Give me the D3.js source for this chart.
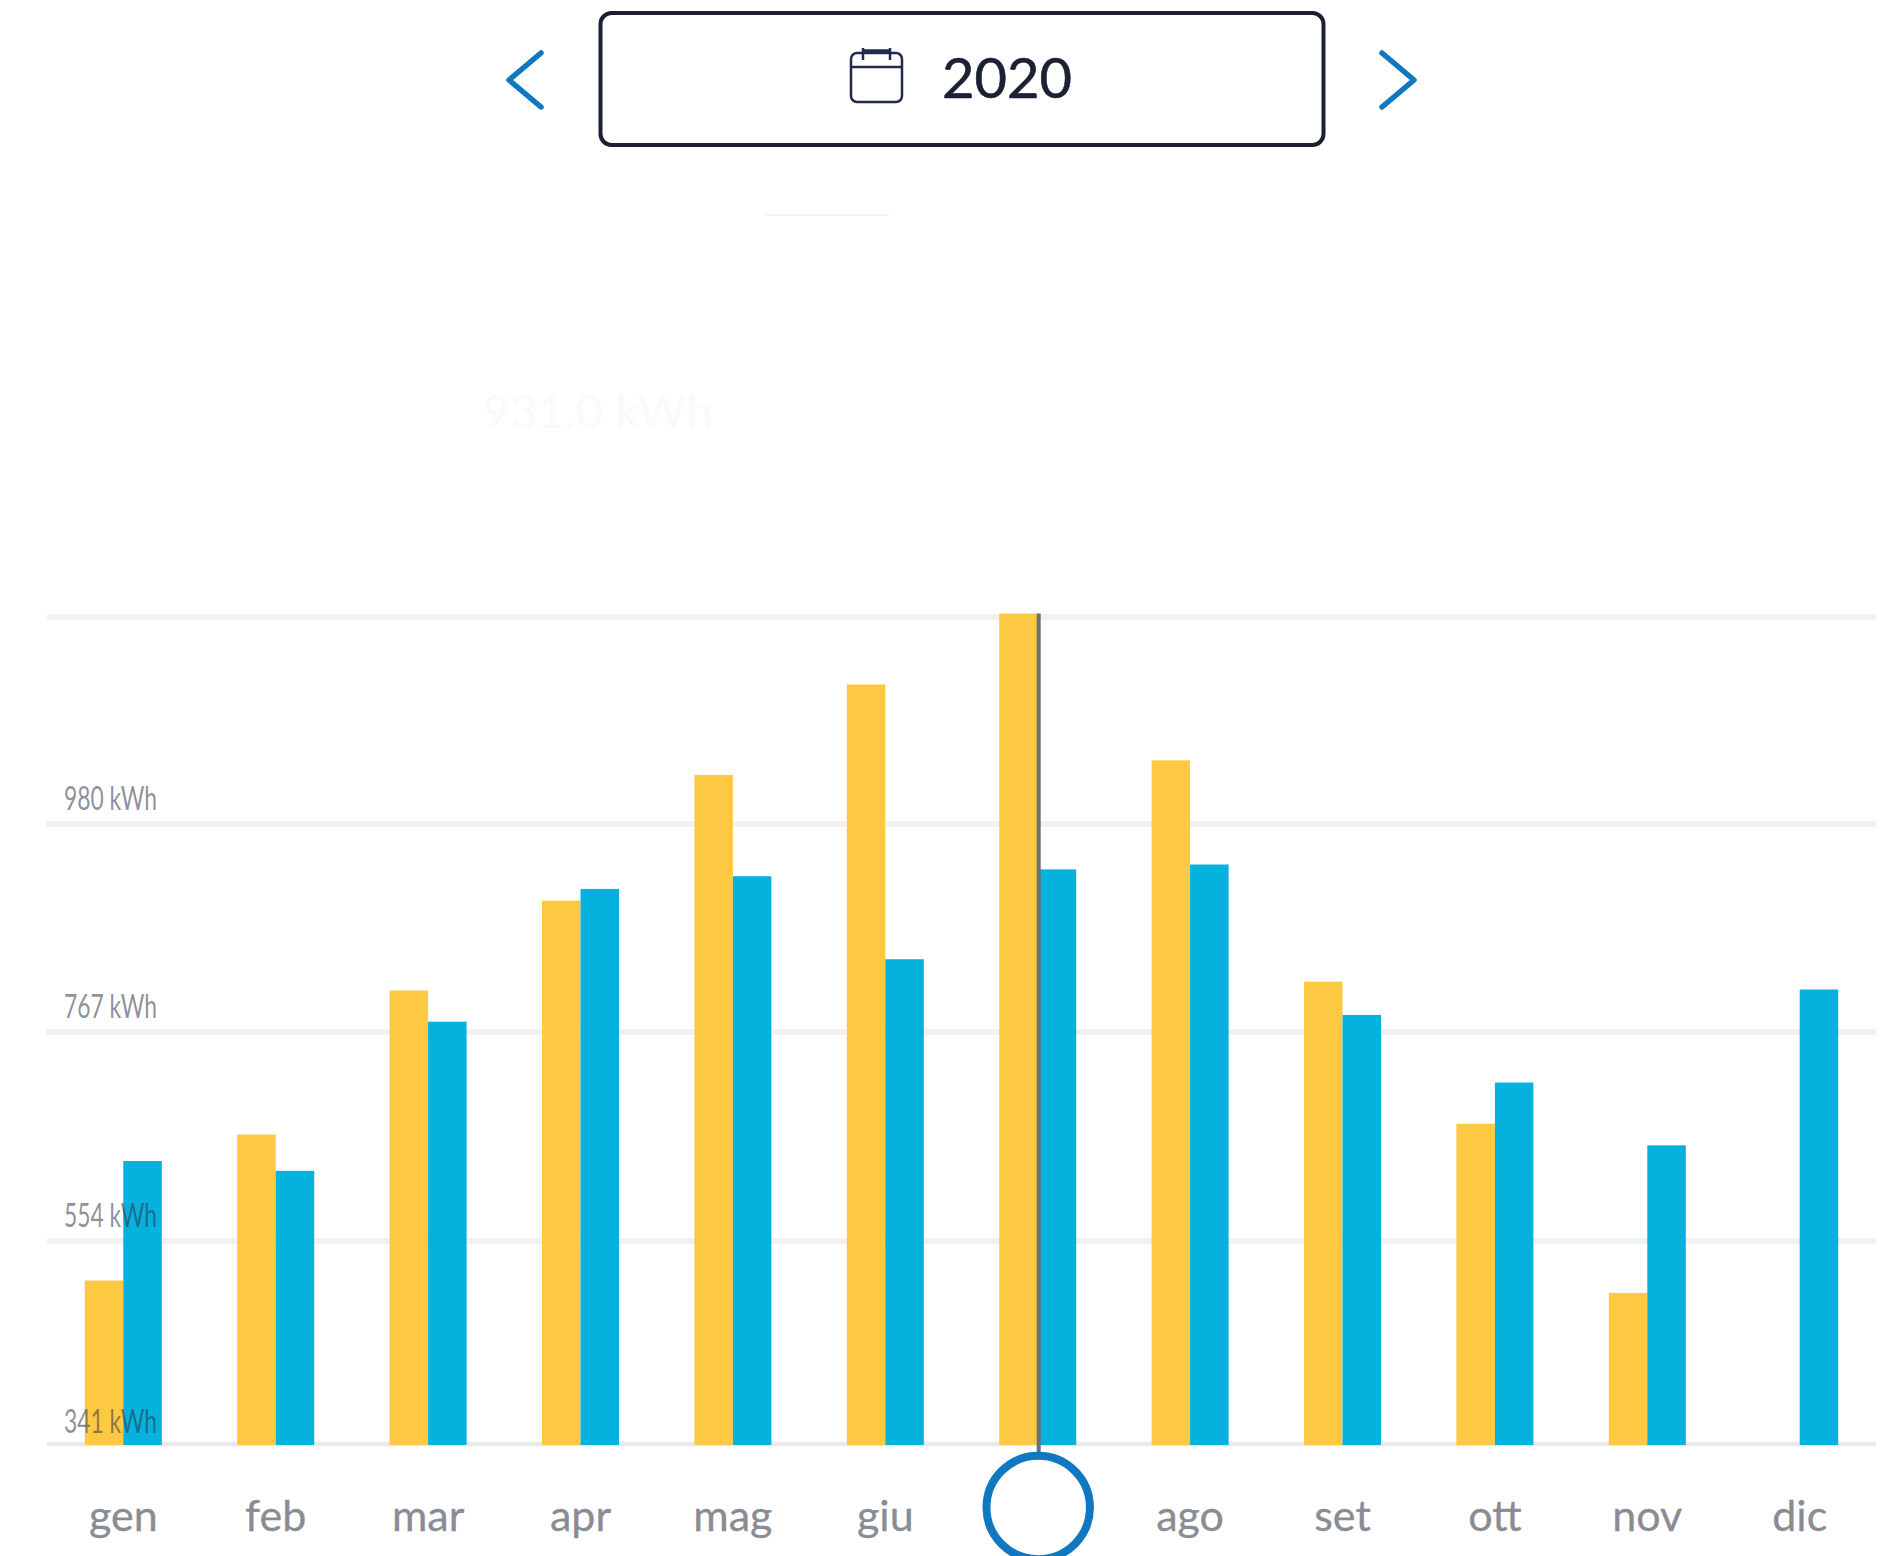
<!DOCTYPE html>
<html>
  <head>
    <meta charset="UTF-8" />
    <title>Consumi 2020</title>
    <script src="https://d3js.org/d3.v7.min.js"></script>
    <style>
      body {
        margin: 0;
        background-color: #fff;
      }
      svg {
        display: block;
      }
      text {
        font-family: Lato, "Open Sans", sans-serif;
      }
    </style>
  </head>
  <body>
    <div id="chart"></div>

    <script>
      const months = ["gen", "feb", "mar", "apr", "mag", "giu", "lug", "ago", "set", "ott", "nov", "dic"];
      const yellowValues = [512, 662, 809, 901, 1030, 1123, 1196, 1045, 818, 673, 499, null];
      const blueValues = [635, 625, 777, 913, 926, 841, 933, 938, 784, 715, 651, 810];
      const gridValues = [341, 554, 767, 980, 1193];
      const labelledValues = [341, 554, 767, 980];
      const selectedMonth = "lug";
      const yearLabel = "2020";
      const ghostLabel = "931.0 kWh";

      const width = 1896;
      const height = 1556;
      const blue = "#0f78c0";
      const dark = "#1b2033";

      const svg = d3
        .select("#chart")
        .append("svg")
        .attr("width", width)
        .attr("height", height);

      // the source picture is slightly stretched, so the ticks are not evenly spaced
      const y = d3
        .scaleLinear()
        .domain(gridValues)
        .range([1443.5, 1240.5, 1031.5, 823.5, 616.5]);

      const x = d3
        .scaleBand()
        .domain(months)
        .range([47.1, 1875.9]);

      const barWidth = 38.5;
      const barBottom = y(341) + 1.5;
      const xSeries = d3
        .scaleBand()
        .domain(["yellow", "blue"])
        .range([x.bandwidth() / 2 - barWidth, x.bandwidth() / 2 + barWidth]);

      // grid
      const grid = svg
        .append("g")
        .attr("transform", "translate(47,0)")
        .call(d3.axisRight(y).tickValues(gridValues).tickSize(1829).tickFormat(""));
      grid.select(".domain").remove();
      grid
        .selectAll("line")
        .attr("stroke", (d) => (d === 341 ? "#e9e9e9" : "#f1f1f1"))
        .attr("stroke-width", (d) => (d === 341 ? 4.5 : 6));

      // faded leftovers above the chart
      svg
        .append("text")
        .attr("x", 483)
        .attr("y", 428)
        .attr("font-size", 47)
        .attr("fill", "#fafafa")
        .text(ghostLabel);
      svg
        .append("line")
        .attr("x1", 765)
        .attr("x2", 890)
        .attr("y1", 215)
        .attr("y2", 215)
        .attr("stroke", "#f6f6f6")
        .attr("stroke-width", 2);

      // bars
      const drawBars = (key, values, colour) => {
        svg
          .append("g")
          .selectAll("rect")
          .data(months.map((m, i) => ({ month: m, value: values[i] })).filter((d) => d.value !== null))
          .enter()
          .append("rect")
          .attr("x", (d) => x(d.month) + xSeries(key))
          .attr("y", (d) => y(d.value))
          .attr("width", xSeries.bandwidth())
          .attr("height", (d) => barBottom - y(d.value))
          .attr("fill", colour);
      };
      drawBars("yellow", yellowValues, "#fdc943");
      drawBars("blue", blueValues, "#05b1dd");

      // y labels sit on top of the bars, squeezed like the source
      svg
        .append("g")
        .selectAll("text")
        .data(labelledValues)
        .enter()
        .append("text")
        .attr("x", 64)
        .attr("y", (d) => y(d) - (d === 341 ? 11 : 14))
        .attr("font-size", 33)
        .attr("textLength", 93)
        .attr("lengthAdjust", "spacingAndGlyphs")
        .attr("fill", "#2d3244")
        .attr("fill-opacity", 0.55)
        .text((d) => d + " kWh");

      // months
      const xAxis = svg
        .append("g")
        .attr("transform", "translate(0,1531)")
        .call(
          d3
            .axisBottom(x)
            .tickSize(0)
            .tickPadding(0)
            .tickFormat((d) => (d === selectedMonth ? "" : d))
        );
      xAxis.select(".domain").remove();
      xAxis
        .selectAll("text")
        .attr("dy", 0)
        .attr("y", 0)
        .attr("font-size", 43)
        .attr("font-family", "Lato, sans-serif")
        .attr("fill", "#8a8c94")
        .attr("stroke", "#8a8c94")
        .attr("stroke-width", 0.3);

      // cursor on the selected month
      const cursorX = x(selectedMonth) + x.bandwidth() / 2 + 1;
      svg
        .append("line")
        .attr("x1", cursorX)
        .attr("x2", cursorX)
        .attr("y1", y(1193) - 3)
        .attr("y2", 1456)
        .attr("stroke", "#6c6f7a")
        .attr("stroke-width", 4);
      svg
        .append("circle")
        .attr("cx", cursorX - 0.5)
        .attr("cy", 1507.5)
        .attr("r", 51.7)
        .attr("fill", "#fff")
        .attr("stroke", blue)
        .attr("stroke-width", 8);

      // year selector
      const line = d3.line();
      svg
        .append("rect")
        .attr("x", 600.5)
        .attr("y", 13)
        .attr("width", 723)
        .attr("height", 132)
        .attr("rx", 11)
        .attr("fill", "#fff")
        .attr("stroke", dark)
        .attr("stroke-width", 4);
      svg
        .append("path")
        .attr("d", line([[541, 53], [509, 80], [541, 107]]))
        .attr("fill", "none")
        .attr("stroke", blue)
        .attr("stroke-width", 5.5)
        .attr("stroke-linecap", "round")
        .attr("stroke-linejoin", "round");
      svg
        .append("path")
        .attr("d", line([[1382, 53], [1414, 80], [1382, 107]]))
        .attr("fill", "none")
        .attr("stroke", blue)
        .attr("stroke-width", 5.5)
        .attr("stroke-linecap", "round")
        .attr("stroke-linejoin", "round");
      svg
        .append("text")
        .attr("x", 942)
        .attr("y", 98)
        .attr("font-size", 56)
        .attr("fill", dark)
        .attr("stroke", dark)
        .attr("stroke-width", 0.6)
        .text(yearLabel);

      // calendar icon
      const icon = svg
        .append("g")
        .attr("fill", "none")
        .attr("stroke", "#232a4d")
        .attr("stroke-width", 2.5);
      icon.append("rect").attr("x", 851).attr("y", 53).attr("width", 51).attr("height", 49).attr("rx", 6);
      icon.append("path").attr("d", line([[851, 67], [902, 67]]));
      icon.append("path").attr("d", line([[864, 51], [889, 51]])).attr("stroke-width", 3.5);
      icon.append("path").attr("d", line([[863, 48], [863, 60]]));
      icon.append("path").attr("d", line([[890, 48], [890, 60]]));
    </script>
  </body>
</html>
